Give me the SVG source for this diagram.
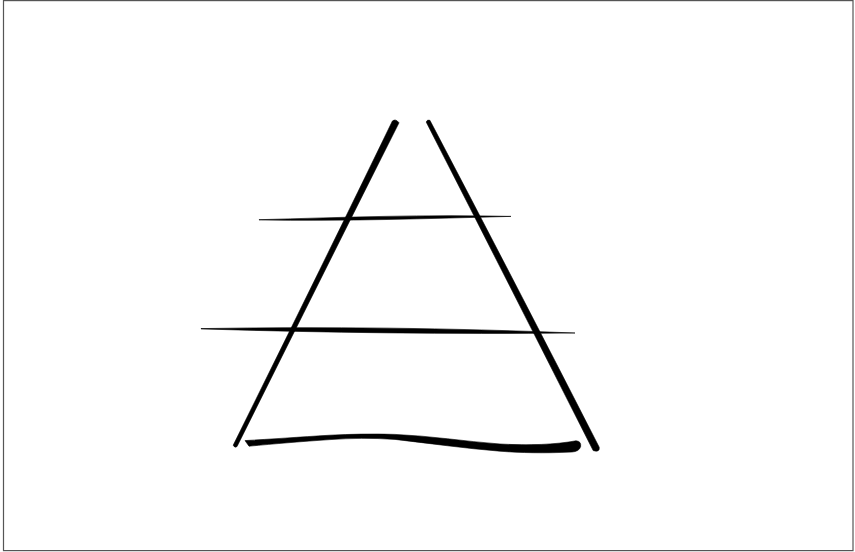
<svg xmlns="http://www.w3.org/2000/svg" width="855" height="552" viewBox="0 0 855 552">
  <style>
    .ink { fill: #000; stroke: #000; stroke-width: 0.6; stroke-linejoin: round; }
    .frame { fill: #fff; stroke: #555; stroke-width: 1.2; }
  </style>
  <rect x="0" y="0" width="855" height="552" fill="#fff"/>
  <rect class="frame" x="3.5" y="0.6" width="849.5" height="550"/>
  <g id="pyramid">
    <g id="left-side">
      <path class="ink" d="M392.4,121 Q395.8,118.4 399,122.8 Q330,260 237,446.6 Q234.6,448.4 233.2,445.2 Q326,258 392.4,121 Z"/>
    </g>
    <g id="right-side">
      <path class="ink" d="M426.2,122 Q427.2,119.2 429.9,120.3 Q520,292 599.2,447.2 Q600,452.6 593.2,450.6 Q515,296 426.2,122 Z"/>
    </g>
    <g id="line-top">
      <path class="ink" d="M259,219.7 C343,217.4 427,214.2 511,216.4 C427,218.6 343,221.4 259,219.9 Z"/>
    </g>
    <g id="line-middle">
      <path class="ink" d="M201,328.6 C326,326.4 450,328 575,333 C450,334.2 326,332.8 201,328.9 Z"/>
    </g>
    <g id="line-bottom">
      <path class="ink" d="M245,440.6 C270,439.2 300,437 330,435.2 C350,434.2 372,433.6 395,434.4 C430,435.8 465,441.4 500,444 C530,445.6 555,444.6 576,440.8 Q581.5,441.2 580.6,446.8 Q579,451.6 572,452 C545,453.4 520,452.8 500,451.2 C465,448.4 430,443.4 395,439.4 C372,437.8 350,438.2 330,439.6 C300,441.6 275,443.8 249,446.2 Z"/>
    </g>
  </g>
</svg>
